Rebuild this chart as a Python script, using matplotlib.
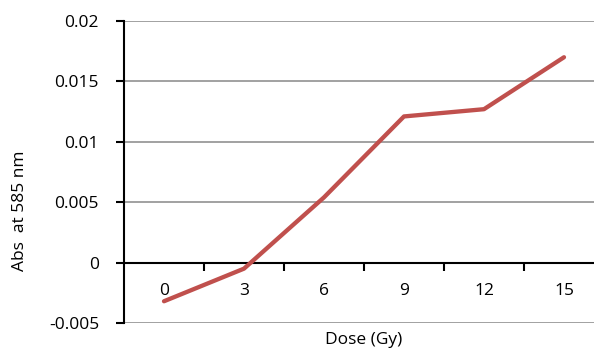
import matplotlib
matplotlib.use("Agg")
import matplotlib.pyplot as plt
import numpy as np

# absorbance at 585 nm vs. irradiation dose
doses = ["0", "3", "6", "9", "12", "15"]
absorbance = [-0.0032, -0.0005, 0.0054, 0.0121, 0.0127, 0.0170]
y_ticks = [-0.005, 0, 0.005, 0.01, 0.015, 0.02]
y_tick_labels = ["-0.005", "0", "0.005", "0.01", "0.015", "0.02"]

plt.rcParams["font.family"] = ["Open Sans", "DejaVu Sans"]
plt.rcParams["font.size"] = 12.5

fig = plt.figure(figsize=(5.94, 3.52), dpi=100)
# plot area runs past the right edge of the figure
ax = fig.add_axes([124 / 594, 1 - 323 / 352, 480 / 594, 302 / 352])

x = np.arange(len(doses))
ax.plot(x, absorbance, color="#C0504D", lw=3.1, solid_capstyle="round",
        solid_joinstyle="round", zorder=3)

ax.set_xlim(-0.5, len(doses) - 0.5)
ax.set_ylim(-0.005, 0.02)

# y axis
ax.set_yticks(y_ticks)
ax.set_yticklabels(y_tick_labels)
ax.yaxis.grid(True, color="#878787", lw=1.1)
ax.set_axisbelow(True)
ax.tick_params(axis="y", direction="out", length=6, width=1.5, pad=12)

# category axis sits on y = 0, ticks between categories
ax.spines["bottom"].set_position(("data", 0))
ax.spines["bottom"].set_linewidth(1.5)
ax.spines["left"].set_linewidth(1.5)
ax.spines["top"].set_visible(False)
ax.spines["right"].set_visible(False)
ax.set_xticks(np.arange(len(doses) - 1) + 0.5)
ax.set_xticklabels([])
ax.tick_params(axis="x", which="major", direction="out", length=6, width=1.5)
ax.set_xticks(x, minor=True)
ax.set_xticklabels(doses, minor=True)
ax.tick_params(axis="x", which="minor", length=0, pad=15)

ax.set_xlabel("Dose (Gy)", va="center")
ax.xaxis.set_label_coords(0.5, -17 / 302)
fig.text(20 / 594, 1 - 211 / 352, "Abs  at 585 nm", rotation=90,
         ha="center", va="center")

fig.savefig("out.png", dpi=100)
